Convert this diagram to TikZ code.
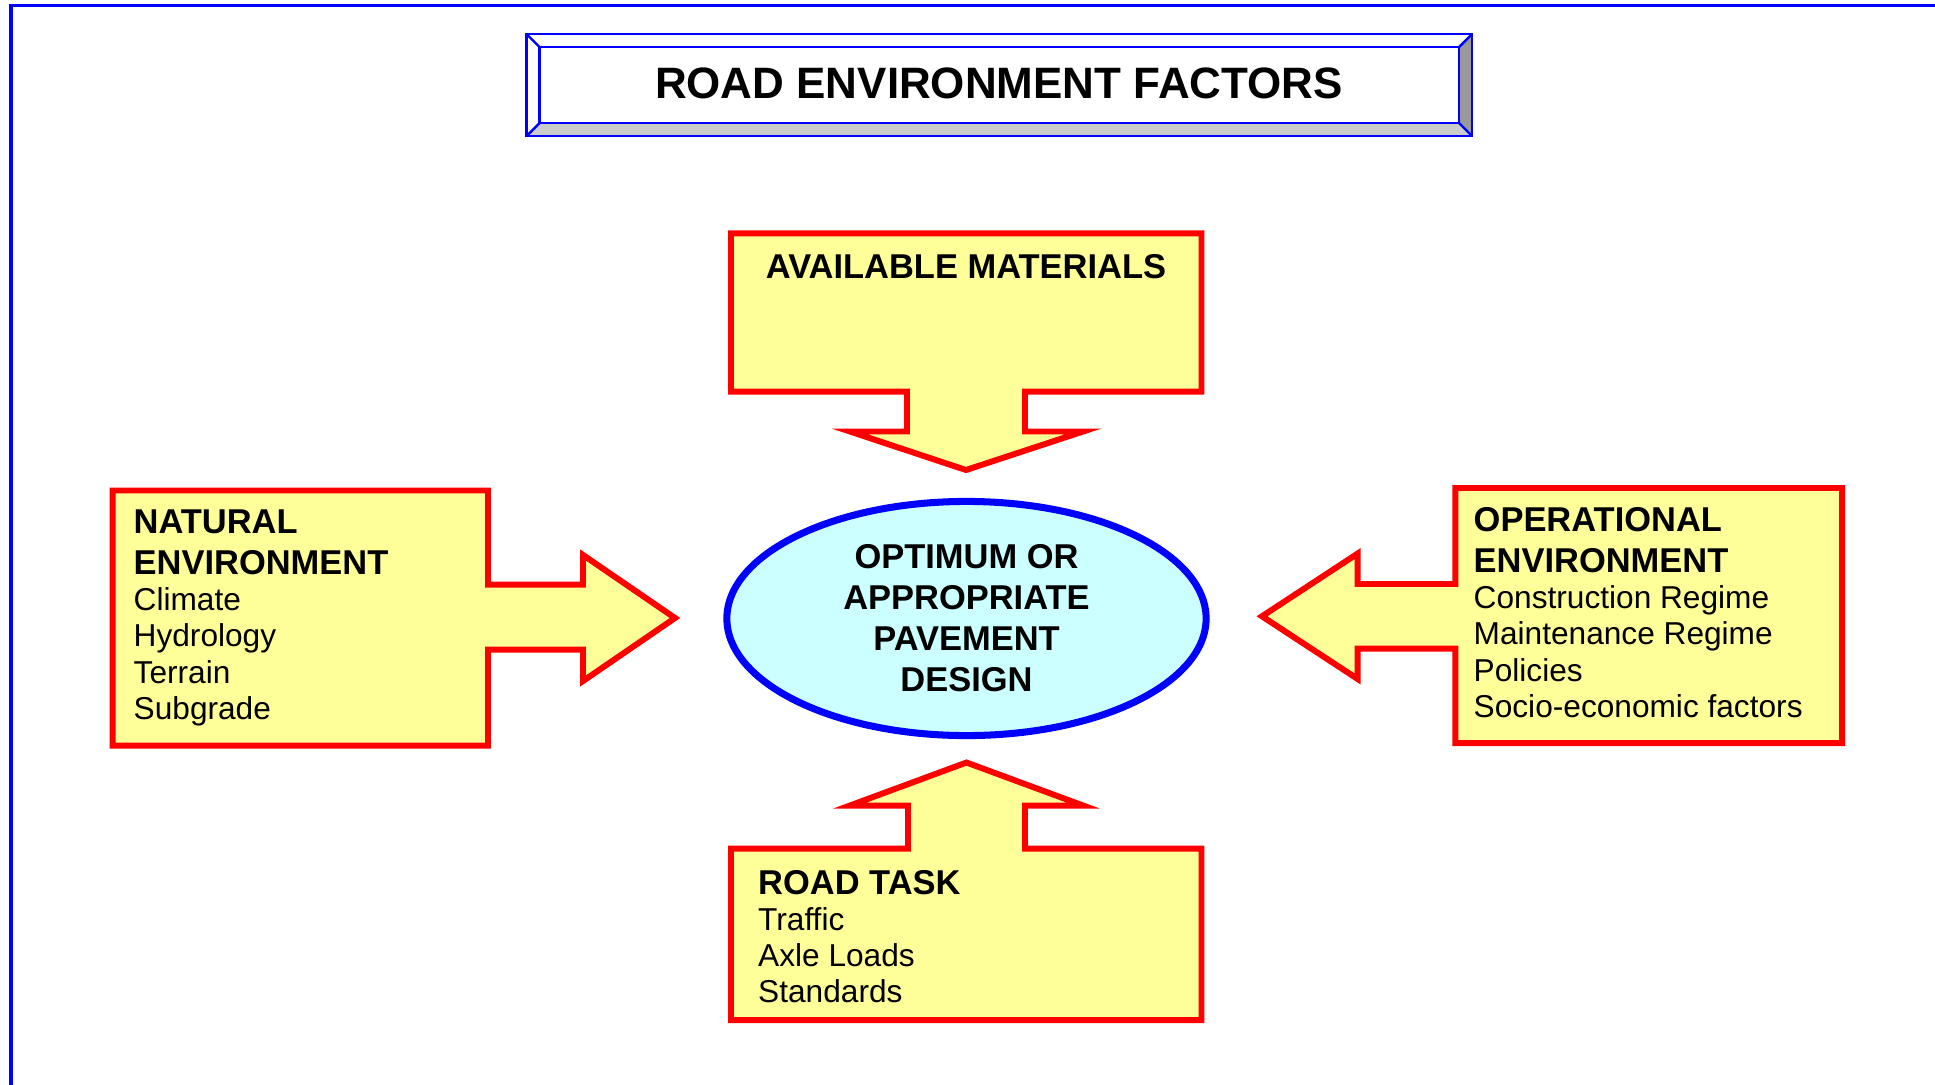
\documentclass[tikz,border=0pt]{standalone}
\usepackage{fontspec}
\setmainfont{Liberation Sans}
\usepackage{tikz}
\usetikzlibrary{shapes.geometric}
\definecolor{pureblue}{rgb}{0.0, 0.0, 1.0}
\definecolor{purered}{rgb}{1.0, 0.0, 0.0}
\definecolor{paleyellow}{rgb}{1.0, 1.0, 0.6}
\definecolor{palecyan}{rgb}{0.8, 1.0, 1.0}
\definecolor{lightbevel}{rgb}{0.8, 0.8, 0.8}
\definecolor{darkbevel}{rgb}{0.6, 0.6, 0.6}
\newcommand{\boxhead}[1]{{\fontsize{9.8}{10.24}\selectfont\bfseries #1}}

\begin{document}
\begin{tikzpicture}[x=0.01cm, y=-0.01cm]
	\useasboundingbox (0,0) rectangle (1935,1084);
	% ------------------------------------------------------------------
	% STYLE DEFINITIONS
	% ------------------------------------------------------------------
	\tikzset{
		pageframe/.style = {line width=1pt, pureblue},
		bevel/.style     = {line width=0.7pt, pureblue},
		callout/.style   = {line width=1.7pt, draw=purered, fill=paleyellow},
		oval/.style      = {ellipse, draw=pureblue, line width=2pt, fill=palecyan,
			minimum width=4.79cm, minimum height=2.34cm, inner sep=0pt,
			align=center, font=\fontsize{9.8}{11.67}\selectfont\bfseries},
		items/.style     = {anchor=base west, inner sep=0pt, align=left,
			font=\fontsize{9}{10.24}\selectfont},
		heading/.style   = {anchor=base, inner sep=0pt,
			font=\fontsize{9.8}{11.67}\selectfont\bfseries}
	}
	
	% --- Page frame ---
	\draw[pageframe] (11,1100) -- (11,5.7) -- (1950,5.7);
	
	% ------------------------------------------------------------------
	% TITLE
	% ------------------------------------------------------------------
	\fill[white] (526.5,34) rectangle (1472,136);
	\fill[darkbevel] (1472,34) -- (1472,136) -- (1459,123) -- (1459,47) -- cycle;
	\fill[lightbevel] (526.5,136) -- (1472,136) -- (1459,123) -- (539.5,123) -- cycle;
	\draw[bevel] (526.5,34) rectangle (1472,136);
	\draw[bevel] (539.5,47) rectangle (1459,123);
	\draw[bevel] (526.5,34) -- (539.5,47) (1472,34) -- (1459,47)
		(1472,136) -- (1459,123) (526.5,136) -- (539.5,123);
	\node[heading, font=\fontsize{12.5}{14}\selectfont\bfseries] (title) at (999,98.3)
		{ROAD ENVIRONMENT FACTORS};
	
	% ------------------------------------------------------------------
	% CALLOUTS
	% ------------------------------------------------------------------
	% Available materials: arrow down
	\draw[callout] (731,233.3) -- (1201.5,233.3) -- (1201.5,391.7) -- (1025,391.7)
		-- (1025,431.5) -- (1083,431.5) -- (966,470) -- (850,431.5) -- (907,431.5)
		-- (907,391.7) -- (731,391.7) -- cycle;
	\node[heading] (materials) at (966,278.3) {AVAILABLE MATERIALS};
	
	% Natural environment: arrow right (base = last line)
	\draw[callout] (112.7,490.5) -- (488,490.5) -- (488,584.7) -- (583,584.7)
		-- (583,555) -- (675,618) -- (583,681) -- (583,649.7) -- (488,649.7)
		-- (488,745.5) -- (112.7,745.5) -- cycle;
	\node[items] (natural) at (133,719)
		{\boxhead{NATURAL}\\[1.43pt]\boxhead{ENVIRONMENT}\\Climate\\Hydrology\\Terrain\\Subgrade};
	
	% Operational environment: arrow left
	\draw[callout] (1842,488) -- (1455.4,488) -- (1455.4,584) -- (1357.7,584)
		-- (1357.7,553.5) -- (1262,616.3) -- (1357.7,679) -- (1357.7,648.7)
		-- (1455.4,648.7) -- (1455.4,743) -- (1842,743) -- cycle;
	\node[items] (operational) at (1473,717)
		{\boxhead{OPERATIONAL}\\[1.43pt]\boxhead{ENVIRONMENT}\\Construction Regime\\Maintenance Regime\\Policies\\Socio-economic factors};
	
	% Road task: arrow up
	\draw[callout] (731,1020) -- (731,848.5) -- (908,848.5) -- (908,805.5)
		-- (850,805.5) -- (966.5,762.5) -- (1083,805.5) -- (1025,805.5)
		-- (1025,848.5) -- (1201.5,848.5) -- (1201.5,1020) -- cycle;
	\node[items] (task) at (757.5,1002.8)
		{\boxhead{ROAD TASK}\\Traffic\\Axle Loads\\Standards};
	
	% --- Centre ---
	\node[oval] (design) at (966.5,618.5) {OPTIMUM OR\\APPROPRIATE\\PAVEMENT\\DESIGN};
	
\end{tikzpicture}
\end{document}
